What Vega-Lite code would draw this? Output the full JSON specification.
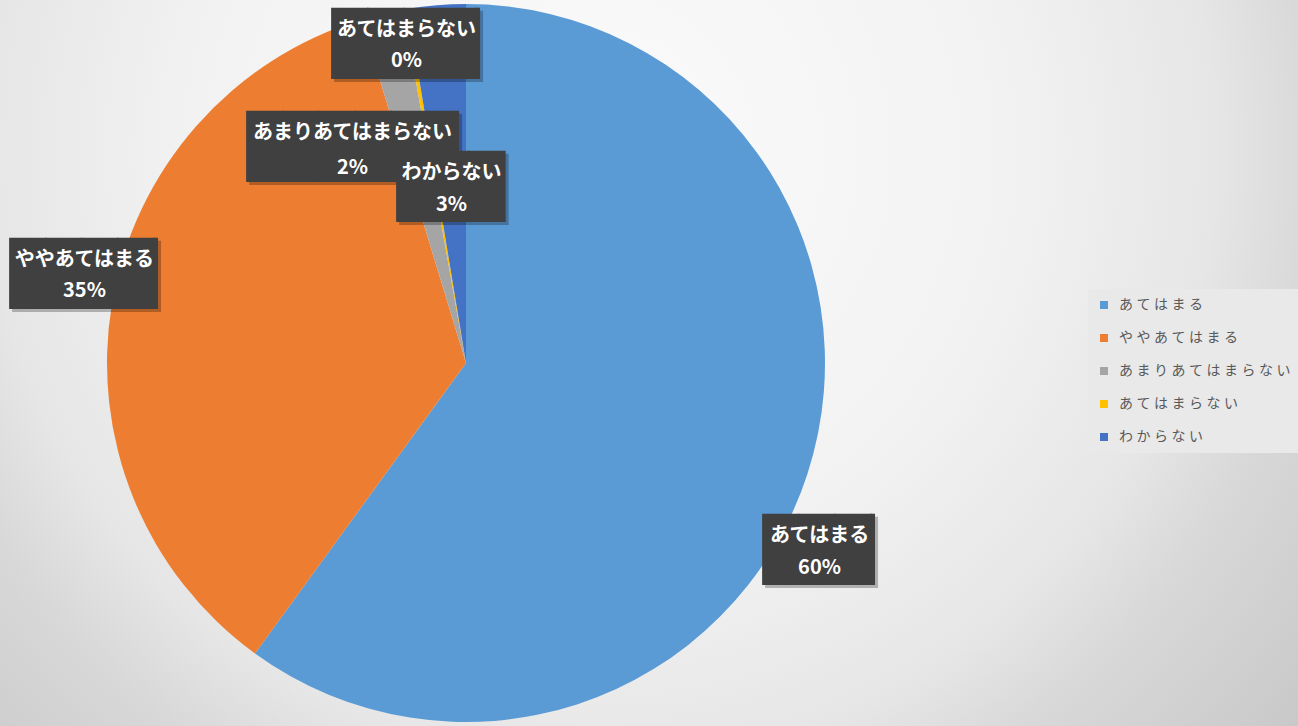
{
  "$schema": "https://vega.github.io/schema/vega-lite/v6.json",
  "padding": 0,
  "background": "#d9d9d9",
  "bounds": "flush",
  "spacing": 0,
  "config": {"view": {"stroke": null}, "font": "Noto Sans CJK JP"},
  "hconcat": [
    {
      "width": 932,
      "height": 726,
      "view": {"stroke": null, "fill": {"gradient": "radial", "x1": 0.6438, "y1": 0.2715, "r1": 0, "x2": 0.6438, "y2": 0.2715, "r2": 0.9764,
        "stops": [{"offset": 0, "color": "#fbfbfb"}, {"offset": 0.45, "color": "#f2f2f2"}, {"offset": 0.676, "color": "#e6e6e6"}, {"offset": 0.787, "color": "#d8d8d8"}, {"offset": 1, "color": "#c8c8c8"}]}},
      "data": {"values": [
        {"cat": "あてはまる", "value": 0.6},
        {"cat": "ややあてはまる", "value": 0.353},
        {"cat": "あまりあてはまらない", "value": 0.019},
        {"cat": "あてはまらない", "value": 0.002},
        {"cat": "わからない", "value": 0.026}
      ]},
      "transform": [{"stack": "value", "groupby": [], "as": ["v0", "v1"]}],
      "layer": [
        {
          "mark": {"type": "arc", "radius": 359},
          "encoding": {
            "theta": {"field": "v0", "type": "quantitative"},
            "theta2": {"field": "v1"},
            "color": {"field": "cat", "type": "nominal",
              "scale": {"domain": ["あてはまる", "ややあてはまる", "あまりあてはまらない", "あてはまらない", "わからない"], "range": ["#5B9BD5", "#ED7D31", "#A5A5A5", "#FFC000", "#4472C4"]},
              "legend": {"orient": "none", "legendX": 1088, "legendY": 289, "title": null, "symbolType": "square", "symbolSize": 64, "symbolStrokeWidth": 0,
                "labelFont": "Noto Sans CJK JP", "labelFontSize": 14, "labelColor": "#595959", "fillColor": "#e9e9e9", "padding": 9, "rowPadding": 19, "labelOffset": 8, "labelLimit": 300,
                "labelExpr": "join(split(datum.label, ''), '\u2005')"}}
          }
        },
        {
          "encoding": {
            "theta": {"field": "value", "type": "quantitative", "stack": true},
            "detail": {"field": "cat"},
            "order": {"field": "v0", "type": "quantitative"}
          },
          "layer": [
            {"mark": {"type": "text", "clip": true, "font": "DejaVu Sans Mono", "fontSize": 60, "align": "left", "baseline": "alphabetic", "radius": 359, "dx": -41.9, "dy": 99.4, "color": "#000000", "opacity": 0.25},
             "encoding": {"text": {"condition": {"test": "datum.cat === 'あてはまる'", "value": "███▏"}, "value": ""}}},
            {"mark": {"type": "text", "clip": true, "font": "DejaVu Sans Mono", "fontSize": 60, "align": "left", "baseline": "alphabetic", "radius": 359, "dx": -44.9, "dy": 96.4, "color": "#404040"},
             "encoding": {"text": {"condition": {"test": "datum.cat === 'あてはまる'", "value": "███▏"}, "value": ""}}},
            {"mark": {"type": "text", "clip": true, "fontSize": 20, "fontWeight": "bold", "align": "center", "baseline": "middle", "radius": 359, "dx": 12.1, "dy": 62.1, "color": "#ffffff"},
             "encoding": {"text": {"condition": {"test": "datum.cat === 'あてはまる'", "field": "cat"}, "value": ""}}},
            {"mark": {"type": "text", "clip": true, "fontSize": 20, "fontWeight": "bold", "align": "center", "baseline": "middle", "radius": 359, "dx": 12.1, "dy": 94.1, "color": "#ffffff"},
             "encoding": {"text": {"condition": {"test": "datum.cat === 'あてはまる'", "field": "value", "type": "quantitative", "format": ".0%"}, "value": ""}}},

            {"mark": {"type": "text", "clip": true, "font": "DejaVu Sans Mono", "fontSize": 60, "align": "left", "baseline": "alphabetic", "radius": 359, "dx": -99.5, "dy": -6.2, "color": "#000000", "opacity": 0.25},
             "encoding": {"text": {"condition": {"test": "datum.cat === 'ややあてはまる'", "value": "████▏"}, "value": ""}}},
            {"mark": {"type": "text", "clip": true, "font": "DejaVu Sans Mono", "fontSize": 60, "align": "left", "baseline": "alphabetic", "radius": 359, "dx": -102.5, "dy": -9.2, "color": "#404040"},
             "encoding": {"text": {"condition": {"test": "datum.cat === 'ややあてはまる'", "value": "████▏"}, "value": ""}}},
            {"mark": {"type": "text", "clip": true, "fontSize": 20, "fontWeight": "bold", "align": "center", "baseline": "middle", "radius": 359, "dx": -27.5, "dy": -43.5, "color": "#ffffff"},
             "encoding": {"text": {"condition": {"test": "datum.cat === 'ややあてはまる'", "field": "cat"}, "value": ""}}},
            {"mark": {"type": "text", "clip": true, "fontSize": 20, "fontWeight": "bold", "align": "center", "baseline": "middle", "radius": 359, "dx": -27.5, "dy": -12.5, "color": "#ffffff"},
             "encoding": {"text": {"condition": {"test": "datum.cat === 'ややあてはまる'", "field": "value", "type": "quantitative", "format": ".0%"}, "value": ""}}},

            {"mark": {"type": "text", "clip": true, "font": "DejaVu Sans Mono", "fontSize": 60, "align": "left", "baseline": "alphabetic", "radius": 359, "dx": -132.7, "dy": 156.4, "color": "#000000", "opacity": 0.25},
             "encoding": {"text": {"condition": {"test": "datum.cat === 'あまりあてはまらない'", "value": "█████▉"}, "value": ""}}},
            {"mark": {"type": "text", "clip": true, "font": "DejaVu Sans Mono", "fontSize": 60, "align": "left", "baseline": "alphabetic", "radius": 359, "dx": -135.7, "dy": 153.4, "color": "#404040"},
             "encoding": {"text": {"condition": {"test": "datum.cat === 'あまりあてはまらない'", "value": "█████▉"}, "value": ""}}},
            {"mark": {"type": "text", "clip": true, "fontSize": 20, "fontWeight": "bold", "align": "center", "baseline": "middle", "radius": 359, "dx": -29.7, "dy": 119.1, "color": "#ffffff"},
             "encoding": {"text": {"condition": {"test": "datum.cat === 'あまりあてはまらない'", "field": "cat"}, "value": ""}}},
            {"mark": {"type": "text", "clip": true, "fontSize": 20, "fontWeight": "bold", "align": "center", "baseline": "middle", "radius": 359, "dx": -29.7, "dy": 153.6, "color": "#ffffff"},
             "encoding": {"text": {"condition": {"test": "datum.cat === 'あまりあてはまらない'", "field": "value", "type": "quantitative", "format": ".0%"}, "value": ""}}},

            {"mark": {"type": "text", "clip": true, "font": "DejaVu Sans Mono", "fontSize": 60, "align": "left", "baseline": "alphabetic", "radius": 359, "dx": -70.9, "dy": 58.2, "color": "#000000", "opacity": 0.25},
             "encoding": {"text": {"condition": {"test": "datum.cat === 'あてはまらない'", "value": "████▏"}, "value": ""}}},
            {"mark": {"type": "text", "clip": true, "font": "DejaVu Sans Mono", "fontSize": 60, "align": "left", "baseline": "alphabetic", "radius": 359, "dx": -73.9, "dy": 55.2, "color": "#404040"},
             "encoding": {"text": {"condition": {"test": "datum.cat === 'あてはまらない'", "value": "████▏"}, "value": ""}}},
            {"mark": {"type": "text", "clip": true, "fontSize": 20, "fontWeight": "bold", "align": "center", "baseline": "middle", "radius": 359, "dx": 1.1, "dy": 20.9, "color": "#ffffff"},
             "encoding": {"text": {"condition": {"test": "datum.cat === 'あてはまらない'", "field": "cat"}, "value": ""}}},
            {"mark": {"type": "text", "clip": true, "fontSize": 20, "fontWeight": "bold", "align": "center", "baseline": "middle", "radius": 359, "dx": 1.1, "dy": 51.9, "color": "#ffffff"},
             "encoding": {"text": {"condition": {"test": "datum.cat === 'あてはまらない'", "field": "value", "type": "quantitative", "format": ".0%"}, "value": ""}}},

            {"mark": {"type": "text", "clip": true, "font": "DejaVu Sans Mono", "fontSize": 60, "align": "left", "baseline": "alphabetic", "radius": 359, "dx": -37.2, "dy": 205.1, "color": "#000000", "opacity": 0.25},
             "encoding": {"text": {"condition": {"test": "datum.cat === 'わからない'", "value": "███"}, "value": ""}}},
            {"mark": {"type": "text", "clip": true, "font": "DejaVu Sans Mono", "fontSize": 60, "align": "left", "baseline": "alphabetic", "radius": 359, "dx": -40.2, "dy": 202.1, "color": "#404040"},
             "encoding": {"text": {"condition": {"test": "datum.cat === 'わからない'", "value": "███"}, "value": ""}}},
            {"mark": {"type": "text", "clip": true, "fontSize": 20, "fontWeight": "bold", "align": "center", "baseline": "middle", "radius": 359, "dx": 14.8, "dy": 167.8, "color": "#ffffff"},
             "encoding": {"text": {"condition": {"test": "datum.cat === 'わからない'", "field": "cat"}, "value": ""}}},
            {"mark": {"type": "text", "clip": true, "fontSize": 20, "fontWeight": "bold", "align": "center", "baseline": "middle", "radius": 359, "dx": 14.8, "dy": 199.8, "color": "#ffffff"},
             "encoding": {"text": {"condition": {"test": "datum.cat === 'わからない'", "field": "value", "type": "quantitative", "format": ".0%"}, "value": ""}}}
          ]
        }
      ]
    },
    {
      "width": 366,
      "height": 726,
      "view": {"stroke": null, "fill": {"gradient": "radial", "x1": -0.2094, "y1": 0.2066, "r1": 0, "x2": -0.2094, "y2": 0.2066, "r2": 1.2534,
        "stops": [{"offset": 0, "color": "#fbfbfb"}, {"offset": 0.45, "color": "#f2f2f2"}, {"offset": 0.676, "color": "#e6e6e6"}, {"offset": 0.787, "color": "#d8d8d8"}, {"offset": 1, "color": "#c8c8c8"}]}},
      "data": {"values": [{"a": 1}]},
      "mark": {"type": "text"},
      "encoding": {"text": {"value": ""}}
    }
  ]
}
